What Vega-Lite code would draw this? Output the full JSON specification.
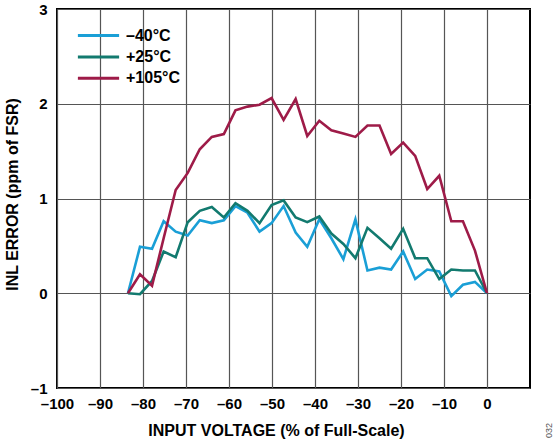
{
  "$schema": "https://vega.github.io/schema/vega-lite/v6.json",
  "width": 473,
  "height": 379,
  "autosize": {"type": "none"},
  "padding": {"left": 57, "top": 9, "right": 27, "bottom": 58},
  "background": "white",
  "title": {"text": "032", "orient": "right", "anchor": "end", "angle": 270, "align": "left", "fontSize": 9, "fontWeight": "normal", "color": "#555", "offset": 6, "font": "Liberation Sans"},
  "config": {
    "view": {"stroke": "#000", "strokeWidth": 2},
    "font": "Liberation Sans",
    "axis": {
      "labelFont": "Liberation Sans",
      "titleFont": "Liberation Sans",
      "labelFontSize": 15,
      "labelFontWeight": "bold",
      "labelColor": "#000",
      "labelFlush": false,
      "labelOverlap": false,
      "titleFontSize": 16,
      "titleFontWeight": "bold",
      "titleColor": "#000",
      "ticks": false,
      "domain": false,
      "grid": true,
      "gridColor": "#555",
      "gridWidth": 1.2,
      "gridOpacity": 1
    }
  },
  "data": {
    "values": [
      {"x": -83.5, "y": 0, "series": "–40°C"},
      {"x": -80.7, "y": 0.49, "series": "–40°C"},
      {"x": -77.9, "y": 0.47, "series": "–40°C"},
      {"x": -75.2, "y": 0.76, "series": "–40°C"},
      {"x": -72.4, "y": 0.65, "series": "–40°C"},
      {"x": -69.6, "y": 0.61, "series": "–40°C"},
      {"x": -66.8, "y": 0.77, "series": "–40°C"},
      {"x": -64.0, "y": 0.74, "series": "–40°C"},
      {"x": -61.2, "y": 0.77, "series": "–40°C"},
      {"x": -58.5, "y": 0.92, "series": "–40°C"},
      {"x": -55.7, "y": 0.85, "series": "–40°C"},
      {"x": -52.9, "y": 0.65, "series": "–40°C"},
      {"x": -50.1, "y": 0.74, "series": "–40°C"},
      {"x": -47.3, "y": 0.92, "series": "–40°C"},
      {"x": -44.5, "y": 0.64, "series": "–40°C"},
      {"x": -41.8, "y": 0.49, "series": "–40°C"},
      {"x": -39.0, "y": 0.78, "series": "–40°C"},
      {"x": -36.2, "y": 0.58, "series": "–40°C"},
      {"x": -33.4, "y": 0.36, "series": "–40°C"},
      {"x": -30.6, "y": 0.78, "series": "–40°C"},
      {"x": -27.8, "y": 0.24, "series": "–40°C"},
      {"x": -25.0, "y": 0.27, "series": "–40°C"},
      {"x": -22.3, "y": 0.25, "series": "–40°C"},
      {"x": -19.5, "y": 0.44, "series": "–40°C"},
      {"x": -16.7, "y": 0.15, "series": "–40°C"},
      {"x": -13.9, "y": 0.25, "series": "–40°C"},
      {"x": -11.1, "y": 0.23, "series": "–40°C"},
      {"x": -8.3, "y": -0.03, "series": "–40°C"},
      {"x": -5.6, "y": 0.09, "series": "–40°C"},
      {"x": -2.8, "y": 0.12, "series": "–40°C"},
      {"x": 0, "y": 0, "series": "–40°C"},
      {"x": -83.5, "y": 0, "series": "+25°C"},
      {"x": -80.7, "y": -0.01, "series": "+25°C"},
      {"x": -77.9, "y": 0.13, "series": "+25°C"},
      {"x": -75.2, "y": 0.44, "series": "+25°C"},
      {"x": -72.4, "y": 0.38, "series": "+25°C"},
      {"x": -69.6, "y": 0.75, "series": "+25°C"},
      {"x": -66.8, "y": 0.87, "series": "+25°C"},
      {"x": -64.0, "y": 0.91, "series": "+25°C"},
      {"x": -61.2, "y": 0.80, "series": "+25°C"},
      {"x": -58.5, "y": 0.95, "series": "+25°C"},
      {"x": -55.7, "y": 0.87, "series": "+25°C"},
      {"x": -52.9, "y": 0.74, "series": "+25°C"},
      {"x": -50.1, "y": 0.93, "series": "+25°C"},
      {"x": -47.3, "y": 0.98, "series": "+25°C"},
      {"x": -44.5, "y": 0.80, "series": "+25°C"},
      {"x": -41.8, "y": 0.75, "series": "+25°C"},
      {"x": -39.0, "y": 0.81, "series": "+25°C"},
      {"x": -36.2, "y": 0.63, "series": "+25°C"},
      {"x": -33.4, "y": 0.52, "series": "+25°C"},
      {"x": -30.6, "y": 0.37, "series": "+25°C"},
      {"x": -27.8, "y": 0.69, "series": "+25°C"},
      {"x": -25.0, "y": 0.58, "series": "+25°C"},
      {"x": -22.3, "y": 0.47, "series": "+25°C"},
      {"x": -19.5, "y": 0.68, "series": "+25°C"},
      {"x": -16.7, "y": 0.37, "series": "+25°C"},
      {"x": -13.9, "y": 0.37, "series": "+25°C"},
      {"x": -11.1, "y": 0.15, "series": "+25°C"},
      {"x": -8.3, "y": 0.25, "series": "+25°C"},
      {"x": -5.6, "y": 0.24, "series": "+25°C"},
      {"x": -2.8, "y": 0.24, "series": "+25°C"},
      {"x": 0, "y": 0, "series": "+25°C"},
      {"x": -83.5, "y": 0, "series": "+105°C"},
      {"x": -80.7, "y": 0.2, "series": "+105°C"},
      {"x": -77.9, "y": 0.08, "series": "+105°C"},
      {"x": -75.2, "y": 0.58, "series": "+105°C"},
      {"x": -72.4, "y": 1.09, "series": "+105°C"},
      {"x": -69.6, "y": 1.27, "series": "+105°C"},
      {"x": -66.8, "y": 1.52, "series": "+105°C"},
      {"x": -64.0, "y": 1.65, "series": "+105°C"},
      {"x": -61.2, "y": 1.68, "series": "+105°C"},
      {"x": -58.5, "y": 1.93, "series": "+105°C"},
      {"x": -55.7, "y": 1.97, "series": "+105°C"},
      {"x": -52.9, "y": 1.99, "series": "+105°C"},
      {"x": -50.1, "y": 2.06, "series": "+105°C"},
      {"x": -47.3, "y": 1.83, "series": "+105°C"},
      {"x": -44.5, "y": 2.05, "series": "+105°C"},
      {"x": -41.8, "y": 1.66, "series": "+105°C"},
      {"x": -39.0, "y": 1.82, "series": "+105°C"},
      {"x": -36.2, "y": 1.72, "series": "+105°C"},
      {"x": -33.4, "y": 1.685, "series": "+105°C"},
      {"x": -30.6, "y": 1.65, "series": "+105°C"},
      {"x": -27.8, "y": 1.77, "series": "+105°C"},
      {"x": -25.0, "y": 1.77, "series": "+105°C"},
      {"x": -22.3, "y": 1.47, "series": "+105°C"},
      {"x": -19.5, "y": 1.59, "series": "+105°C"},
      {"x": -16.7, "y": 1.45, "series": "+105°C"},
      {"x": -13.9, "y": 1.10, "series": "+105°C"},
      {"x": -11.1, "y": 1.24, "series": "+105°C"},
      {"x": -8.3, "y": 0.76, "series": "+105°C"},
      {"x": -5.6, "y": 0.76, "series": "+105°C"},
      {"x": -2.8, "y": 0.45, "series": "+105°C"},
      {"x": 0, "y": 0, "series": "+105°C"}
    ]
  },
  "mark": {"type": "line", "strokeWidth": 2.6, "clip": true},
  "encoding": {
    "x": {
      "field": "x",
      "type": "quantitative",
      "scale": {"domain": [-100, 10], "nice": false, "zero": false},
      "axis": {
        "values": [-100, -90, -80, -70, -60, -50, -40, -30, -20, -10, 0],
        "title": "INPUT VOLTAGE (% of Full-Scale)",
        "labelExpr": "datum.value < 0 ? '–' + abs(datum.value) : '' + datum.value",
        "labelPadding": 8,
        "titlePadding": 11,
        "titleX": 219
      }
    },
    "y": {
      "field": "y",
      "type": "quantitative",
      "scale": {"domain": [-1, 3], "nice": false, "zero": false},
      "axis": {
        "values": [-1, 0, 1, 2, 3],
        "title": "INL ERROR (ppm of FSR)",
        "labelExpr": "datum.value < 0 ? '–' + abs(datum.value) : '' + datum.value",
        "labelPadding": 10,
        "titlePadding": 10,
        "titleY": 185
      }
    },
    "color": {
      "field": "series",
      "type": "nominal",
      "sort": ["–40°C", "+25°C", "+105°C"],
      "scale": {"domain": ["–40°C", "+25°C", "+105°C"], "range": ["#1a9fd6", "#127a6f", "#9e1b48"]},
      "legend": {
        "title": null,
        "orient": "none",
        "legendX": 19,
        "legendY": 17,
        "symbolType": "stroke",
        "symbolSize": 1700,
        "symbolStrokeWidth": 3,
        "clipHeight": 19,
        "rowPadding": 2.4,
        "labelFont": "Liberation Sans",
        "labelFontSize": 16,
        "labelFontWeight": "bold",
        "labelColor": "#000",
        "labelOffset": 5
      }
    }
  }
}
